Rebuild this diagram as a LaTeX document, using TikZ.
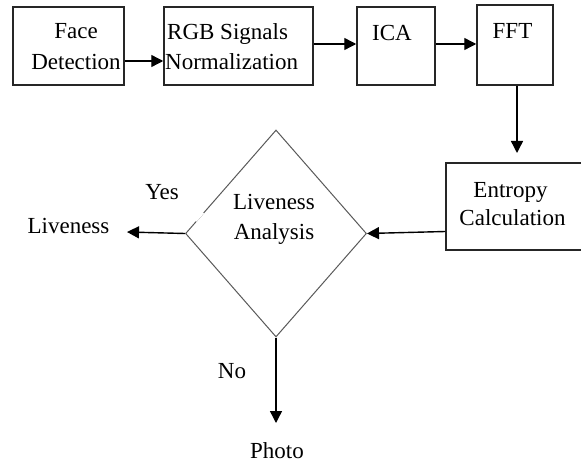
\documentclass[tikz,border=0pt]{standalone}
\usepackage{fontspec}
\setmainfont{Liberation Serif}
\usetikzlibrary{arrows.meta,shapes.geometric,calc}
\begin{document}
\begin{tikzpicture}[x=1pt,y=-1pt,
  box/.style={draw=black!85,line width=1.5pt,inner sep=0pt},
  lbl/.style={anchor=base,inner sep=0pt,font=\fontsize{23}{30}\selectfont},
  arr/.style={line width=1.4pt,-{Triangle[length=12pt,width=12pt]}},
  decision/.style={diamond,draw=black!65,line width=1pt,inner sep=0pt,minimum width=181pt,minimum height=207pt}]
\useasboundingbox (0,0) rectangle (581,468);
\clip (0,0) rectangle (581,468);
% boxes
\node[box,minimum width=111pt,minimum height=78pt] (face) at (68.5,46) {};
\node[box,minimum width=149pt,minimum height=78pt] (rgb) at (238.5,46) {};
\node[box,minimum width=78pt,minimum height=78pt] (ica) at (396,46) {};
\node[box,minimum width=76pt,minimum height=80pt] (fft) at (515,45) {};
\node[box,minimum width=140pt,minimum height=87pt] (ent) at (516,206.5) {};
\node[decision] (dec) at (276,233.5) {};
% gap in diamond edge
\draw[white,line width=2pt] ($(dec.west)!0.12!(dec.north)$) -- ($(dec.west)!0.2!(dec.north)$);
% texts
\node[lbl] (t1) at (76,39) {Face};
\node[lbl] (t2) at (76,70) {Detection};
\node[lbl,anchor=base west] (t3) at (167,40) {RGB Signals};
\node[lbl,anchor=base west] (t4) at (165,70) {Normalization};
\node[lbl] (t5) at (392,41) {ICA};
\node[lbl] (t6) at (512.5,39) {FFT};
\node[lbl] (t7) at (510.5,197) {Entropy};
\node[lbl] (t8) at (512.5,225) {Calculation};
\node[lbl] (t9) at (274,209) {Liveness};
\node[lbl] (t10) at (274,239) {Analysis};
\node[lbl] (yes) at (162,200) {Yes};
\node[lbl] (live) at (68.5,233) {Liveness};
\node[lbl] (no) at (232,378) {No};
\node[lbl] (photo) at (277,458) {Photo};
% free ends
\coordinate (fftend) at (517,153);
\coordinate (liveend) at (127,232);
\coordinate (photoend) at (276,423);
% connectors
\draw[arr] ([yshift=-15pt]face.east) -- ([yshift=-15pt]rgb.west);
\draw[arr] ([yshift=2pt]rgb.east) -- ([yshift=2pt]ica.west);
\draw[arr] ([yshift=2pt]ica.east) -- ([yshift=1pt]fft.west);
\draw[arr] (fft.south -| fftend) -- (fftend);
\draw[arr] ([yshift=-25pt]ent.west) -- (dec.east);
\draw[arr] (dec.west) -- (liveend);
\draw[arr] (dec.south) -- (photoend);
\end{tikzpicture}
\end{document}
